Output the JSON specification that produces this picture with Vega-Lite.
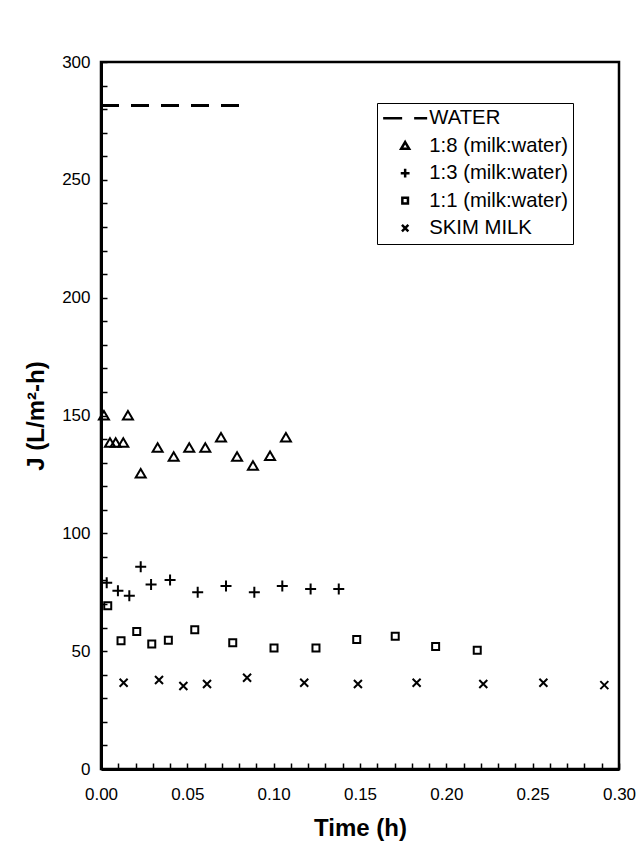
{
  "$schema": "https://vega.github.io/schema/vega-lite/v6.json",
  "width": 518,
  "height": 707,
  "autosize": {"type": "none"},
  "padding": {"left": 101, "top": 62, "right": 22, "bottom": 88},
  "background": "white",
  "config": {"view": {"stroke": "black", "strokeWidth": 2.5}, "font": "Liberation Sans"},
  "data": {"values": [
    {"series": "WATER", "t": 0.0, "J": 281.5},
    {"series": "WATER", "t": 0.0827, "J": 281.5},
    {"series": "1:8 (milk:water)", "t": 0.0017, "J": 150.0},
    {"series": "1:8 (milk:water)", "t": 0.0052, "J": 138.4},
    {"series": "1:8 (milk:water)", "t": 0.0085, "J": 138.4},
    {"series": "1:8 (milk:water)", "t": 0.0129, "J": 138.4},
    {"series": "1:8 (milk:water)", "t": 0.0156, "J": 150.0},
    {"series": "1:8 (milk:water)", "t": 0.0230, "J": 125.4},
    {"series": "1:8 (milk:water)", "t": 0.0328, "J": 136.3},
    {"series": "1:8 (milk:water)", "t": 0.0421, "J": 132.5},
    {"series": "1:8 (milk:water)", "t": 0.0511, "J": 136.3},
    {"series": "1:8 (milk:water)", "t": 0.0604, "J": 136.3},
    {"series": "1:8 (milk:water)", "t": 0.0695, "J": 140.7},
    {"series": "1:8 (milk:water)", "t": 0.0788, "J": 132.5},
    {"series": "1:8 (milk:water)", "t": 0.0880, "J": 128.7},
    {"series": "1:8 (milk:water)", "t": 0.0979, "J": 132.8},
    {"series": "1:8 (milk:water)", "t": 0.1071, "J": 140.7},
    {"series": "1:3 (milk:water)", "t": 0.0033, "J": 79.0},
    {"series": "1:3 (milk:water)", "t": 0.0098, "J": 75.6},
    {"series": "1:3 (milk:water)", "t": 0.0164, "J": 73.5},
    {"series": "1:3 (milk:water)", "t": 0.0230, "J": 85.8},
    {"series": "1:3 (milk:water)", "t": 0.0290, "J": 78.3},
    {"series": "1:3 (milk:water)", "t": 0.0400, "J": 80.2},
    {"series": "1:3 (milk:water)", "t": 0.0560, "J": 75.0},
    {"series": "1:3 (milk:water)", "t": 0.0724, "J": 77.6},
    {"series": "1:3 (milk:water)", "t": 0.0888, "J": 75.0},
    {"series": "1:3 (milk:water)", "t": 0.1050, "J": 77.6},
    {"series": "1:3 (milk:water)", "t": 0.1214, "J": 76.4},
    {"series": "1:3 (milk:water)", "t": 0.1377, "J": 76.4},
    {"series": "1:1 (milk:water)", "t": 0.0039, "J": 69.3},
    {"series": "1:1 (milk:water)", "t": 0.0116, "J": 54.4},
    {"series": "1:1 (milk:water)", "t": 0.0207, "J": 58.3},
    {"series": "1:1 (milk:water)", "t": 0.0294, "J": 53.0},
    {"series": "1:1 (milk:water)", "t": 0.0390, "J": 54.6},
    {"series": "1:1 (milk:water)", "t": 0.0543, "J": 59.1},
    {"series": "1:1 (milk:water)", "t": 0.0763, "J": 53.6},
    {"series": "1:1 (milk:water)", "t": 0.1002, "J": 51.3},
    {"series": "1:1 (milk:water)", "t": 0.1245, "J": 51.3},
    {"series": "1:1 (milk:water)", "t": 0.1481, "J": 55.0},
    {"series": "1:1 (milk:water)", "t": 0.1704, "J": 56.3},
    {"series": "1:1 (milk:water)", "t": 0.1938, "J": 52.0},
    {"series": "1:1 (milk:water)", "t": 0.2179, "J": 50.4},
    {"series": "SKIM MILK", "t": 0.0131, "J": 36.6},
    {"series": "SKIM MILK", "t": 0.0336, "J": 37.8},
    {"series": "SKIM MILK", "t": 0.0477, "J": 35.2},
    {"series": "SKIM MILK", "t": 0.0614, "J": 36.1},
    {"series": "SKIM MILK", "t": 0.0846, "J": 38.7},
    {"series": "SKIM MILK", "t": 0.1177, "J": 36.6},
    {"series": "SKIM MILK", "t": 0.1488, "J": 36.1},
    {"series": "SKIM MILK", "t": 0.1828, "J": 36.6},
    {"series": "SKIM MILK", "t": 0.2214, "J": 36.1},
    {"series": "SKIM MILK", "t": 0.2562, "J": 36.6},
    {"series": "SKIM MILK", "t": 0.2915, "J": 35.6}
  ]},
  "encoding": {
    "x": {
      "field": "t", "type": "quantitative",
      "scale": {"domain": [0, 0.3], "nice": false, "zero": false},
      "axis": {
        "title": "Time (h)", "titleFontSize": 24, "titleFontWeight": "bold", "titleColor": "black", "titlePadding": 14,
        "values": [0,0.01,0.02,0.03,0.04,0.05,0.06,0.07,0.08,0.09,0.1,0.11,0.12,0.13,0.14,0.15,0.16,0.17,0.18,0.19,0.2,0.21,0.22,0.23,0.24,0.25,0.26,0.27,0.28,0.29,0.3],
        "format": ".2f",
        "labelExpr": "abs(datum.value*20 - round(datum.value*20)) < 0.000001 ? datum.label : ''",
        "labelFontSize": 17, "labelColor": "black", "labelPadding": 23, "labelOverlap": false, "labelFlush": false, "labelBound": false,
        "ticks": true, "tickColor": "black", "tickSize": -6, "tickWidth": 1.5, "tickOpacity": 1,
        "domainColor": "black", "domainWidth": 3, "grid": false, "zindex": 1
      }
    },
    "y": {
      "field": "J", "type": "quantitative",
      "scale": {"domain": [0, 300], "nice": false},
      "axis": {
        "title": "J (L/m²-h)", "titleFontSize": 24, "titleFontWeight": "bold", "titleColor": "black", "titlePadding": 13,
        "values": [0,10,20,30,40,50,60,70,80,90,100,110,120,130,140,150,160,170,180,190,200,210,220,230,240,250,260,270,280,290,300],
        "labelExpr": "datum.value % 50 === 0 ? datum.label : ''",
        "labelFontSize": 17, "labelColor": "black", "labelPadding": 17, "labelOverlap": false, "labelBound": false,
        "ticks": true, "tickColor": "black", "tickSize": -6, "tickWidth": 1.5, "tickOpacity": 1,
        "domainColor": "black", "domainWidth": 3, "grid": false, "zindex": 1
      }
    }
  },
  "layer": [
    {
      "transform": [{"filter": "datum.series === 'WATER'"}],
      "mark": {"type": "line", "color": "black", "strokeDash": [18, 12], "strokeWidth": 3}
    },
    {
      "transform": [{"filter": "datum.series !== 'WATER'"}],
      "mark": {"type": "point", "filled": false, "color": "black", "strokeWidth": 2, "size": 100, "opacity": 1},
      "encoding": {
        "shape": {
          "field": "series", "type": "nominal",
          "scale": {
            "domain": ["WATER", "1:8 (milk:water)", "1:3 (milk:water)", "1:1 (milk:water)", "SKIM MILK"],
            "range": [
              "M-5.5,0H-0.75M2.25,0H5.5",
              "M0,-0.9L1,0.8L-1,0.8Z",
              "M-1.1,0H1.1M0,-1.1V1.1",
              "M-0.7,-0.7H0.7V0.7H-0.7Z",
              "M-0.8,-0.8L0.8,0.8M-0.8,0.8L0.8,-0.8"
            ]
          },
          "legend": {
            "title": null, "orient": "none", "legendX": 276, "legendY": 41,
            "strokeColor": "black", "fillColor": "white", "padding": 5,
            "labelFontSize": 20.3, "labelColor": "black", "labelFont": "Liberation Sans",
            "symbolSize": 64, "symbolStrokeWidth": 2.5, "symbolStrokeColor": "black", "symbolFillColor": "transparent",
            "symbolOffset": 13, "labelOffset": 14, "rowPadding": 6.5,
            "encode": {"legend": {"update": {"strokeWidth": {"value": 1.5}}}}
          }
        }
      }
    }
  ]
}
